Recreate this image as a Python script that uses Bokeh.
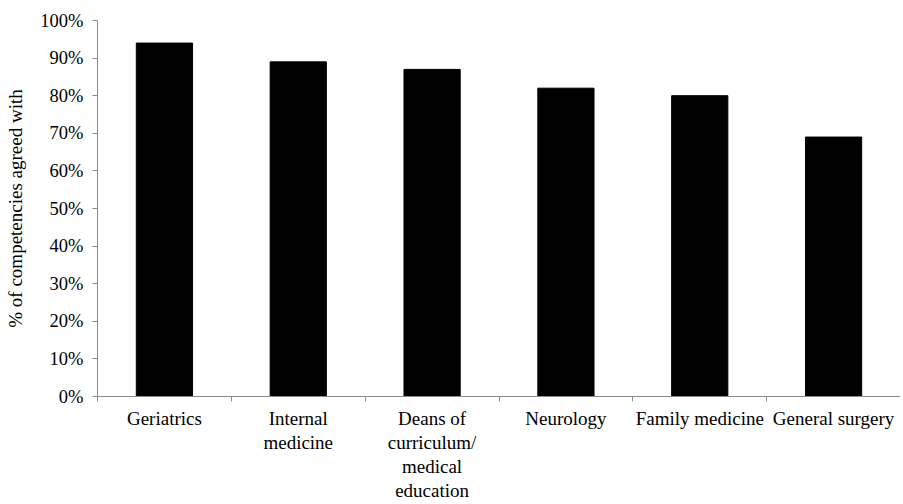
from bokeh.plotting import figure
from bokeh.models import (Range1d, LinearAxis, FixedTicker, ColumnDataSource,
                          CustomJSTickFormatter, PrintfTickFormatter)
from bokeh.embed import file_html
from bokeh.resources import INLINE

categories = ["Geriatrics", "Internal\nmedicine", "Deans of\ncurriculum/\nmedical\neducation",
              "Neurology", "Family medicine", "General surgery"]
values = [94, 89, 87, 82, 80, 69]
y_ticks = [0, 10, 20, 30, 40, 50, 60, 70, 80, 90, 100]
y_label = "% of competencies agreed with"

FONT = "Liberation Serif"
GRAY = "#8c8c8c"

n = len(categories)
centers = [i + 0.5 for i in range(n)]
src = ColumnDataSource(dict(x=centers, top=values, cat=categories))

p = figure(width=900, height=503, x_range=Range1d(0, n), y_range=Range1d(0, 100),
           output_backend="svg", toolbar_location=None, x_axis_location=None,
           min_border_left=97, min_border_right=0, min_border_top=20, min_border_bottom=0)
p.outline_line_color = None
p.xgrid.visible = False
p.ygrid.visible = False

p.vbar(x="x", top="top", width=0.42, color="black", source=src)

# y axis
ya = p.yaxis[0]
ya.ticker = FixedTicker(ticks=y_ticks)
ya.formatter = PrintfTickFormatter(format="%d%%")
ya.axis_line_color = GRAY
ya.major_tick_line_color = GRAY
ya.major_tick_in = 0
ya.major_tick_out = 5
ya.minor_tick_line_color = None
ya.major_label_text_font = FONT
ya.major_label_text_font_size = "18.5px"
ya.major_label_text_color = "black"
ya.major_label_standoff = 9
ya.axis_label = y_label
ya.axis_label_text_font = FONT
ya.axis_label_text_font_size = "19px"
ya.axis_label_text_font_style = "normal"
ya.axis_label_text_color = "black"
ya.axis_label_standoff = 11

# boundary ticks on x axis
bx = LinearAxis(ticker=FixedTicker(ticks=list(range(n + 1))),
                formatter=CustomJSTickFormatter(code="return ''"))
bx.axis_line_color = GRAY
bx.major_tick_line_color = GRAY
bx.major_tick_in = 0
bx.major_tick_out = 5
bx.minor_tick_line_color = None
bx.major_label_standoff = 0
bx.major_label_text_font_size = "1px"
p.add_layout(bx, "below")

# category labels
cx = LinearAxis(ticker=FixedTicker(ticks=centers),
                formatter=CustomJSTickFormatter(args=dict(labels=categories),
                                                code="return labels[Math.floor(tick)] || ''"))
cx.axis_line_color = None
cx.major_tick_line_color = None
cx.major_tick_out = 0
cx.major_tick_in = 0
cx.minor_tick_line_color = None
cx.major_label_text_font = FONT
cx.major_label_text_font_size = "19px"
cx.major_label_text_color = "black"
cx.major_label_text_line_height = 1.15
cx.major_label_standoff = 6
p.add_layout(cx, "below")

open("out.html", "w").write(file_html(p, INLINE))
